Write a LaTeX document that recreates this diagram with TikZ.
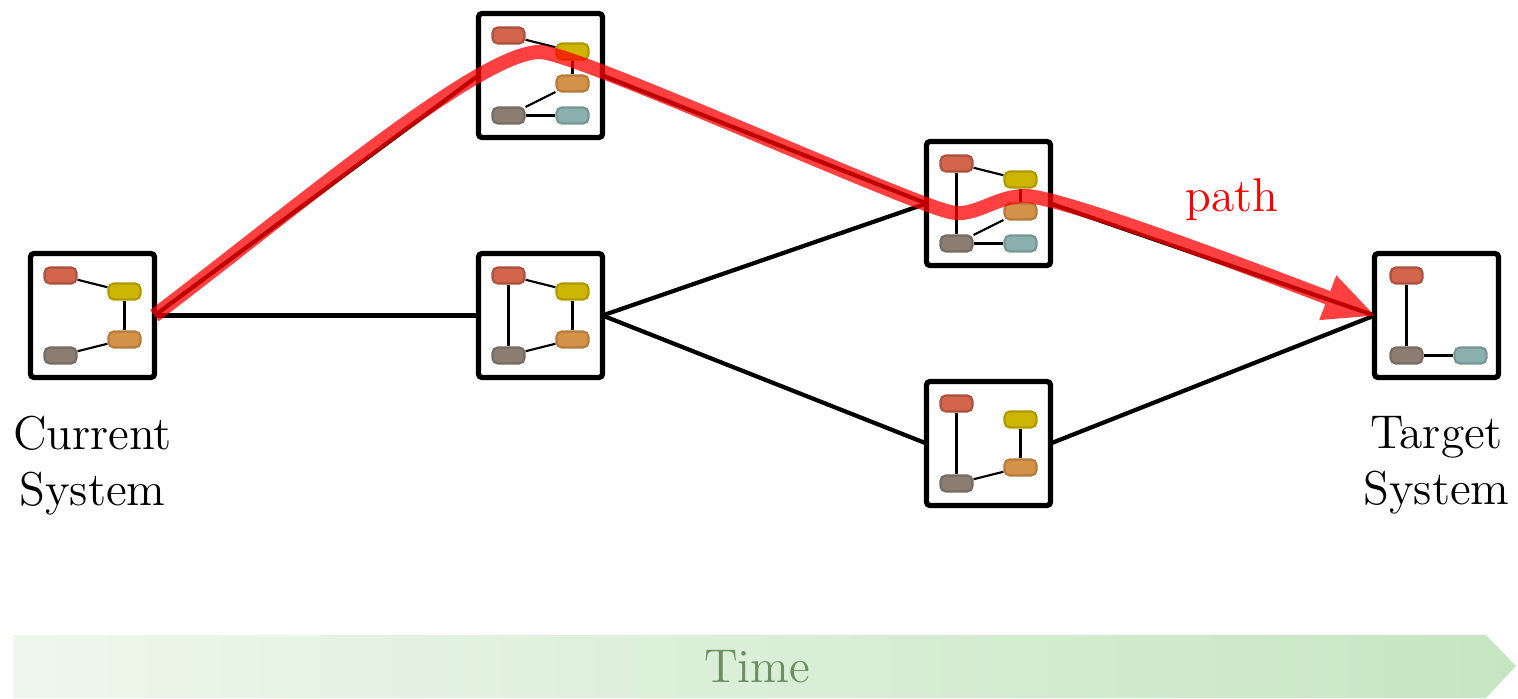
\documentclass[tikz,border=0pt]{standalone}
\usepackage{tikz}
\usetikzlibrary{positioning, arrows.meta, calc}
\definecolor{compRed}{HTML}{D3654D}
\definecolor{compYellow}{HTML}{CDB500}
\definecolor{compOrange}{HTML}{D49148}
\definecolor{compGrey}{HTML}{8C7D73}
\definecolor{compTeal}{HTML}{8CAFAF}
\definecolor{timeLeft}{HTML}{EEF7EC}
\definecolor{timeRight}{HTML}{C6E6C2}
\definecolor{timeGreen}{HTML}{6A8F60}
\tikzstyle{system} =[draw, fill=white, line width=1.5pt, minimum size=1.24cm, rounded corners=1pt, inner sep=0pt, outer sep=0pt]
\tikzstyle{comp} =[rounded corners=1.5pt, minimum width=0.32cm, minimum height=0.16cm, inner sep=0pt, line width=0.6pt]
\tikzstyle{cRed} =[comp, fill=compRed, draw=compRed!80!black]
\tikzstyle{cYellow} =[comp, fill=compYellow, draw=compYellow!85!black]
\tikzstyle{cOrange} =[comp, fill=compOrange, draw=compOrange!85!black]
\tikzstyle{cGrey} =[comp, fill=compGrey, draw=compGrey!85!black]
\tikzstyle{cTeal} =[comp, fill=compTeal, draw=compTeal!85!black]
\tikzstyle{wire} =[line width=0.6pt, black]
\tikzstyle{link} =[line width=1.2pt, black]
\tikzstyle{caption} =[align=center, font=\fontsize{13.5}{16}\selectfont]

\begin{document}
\begin{tikzpicture}
\useasboundingbox (0,0) rectangle (15.18,6.98);

% time axis
\shade[left color=timeLeft, right color=timeRight] (0.13,0) -- (14.86,0) -- (15.16,0.32) -- (14.86,0.63) -- (0.13,0.63) -- cycle;
\node (time) [caption, text=timeGreen] at (7.57,0.31) {Time};

% systems
\node (cur) [system] at (0.925,3.825) {};
\node (mid) [system, right=3.24cm of cur] {};
\node (top) [system, above=1.16cm of mid] {};
\node (ur) [system, right=3.24cm of mid, yshift=1.12cm] {};
\node (lr) [system, right=3.24cm of mid, yshift=-1.28cm] {};
\node (tgt) [system, right=3.24cm of ur, yshift=-1.12cm] {};

\node (curText) [caption, below=0.26cm of cur] {Current\\System};
\node (tgtText) [caption, below=0.26cm of tgt] {Target\\System};

% current system
\node (curR) [cRed] at ($(cur)+(-0.32,0.40)$) {};
\node (curY) [cYellow] at ($(cur)+(0.32,0.24)$) {};
\node (curO) [cOrange] at ($(cur)+(0.32,-0.24)$) {};
\node (curG) [cGrey] at ($(cur)+(-0.32,-0.40)$) {};
\draw[wire] (curR) -- (curY);
\draw[wire] (curY) -- (curO);
\draw[wire] (curO) -- (curG);

% top
\node (topR) [cRed] at ($(top)+(-0.32,0.40)$) {};
\node (topY) [cYellow] at ($(top)+(0.32,0.24)$) {};
\node (topO) [cOrange] at ($(top)+(0.32,-0.08)$) {};
\node (topG) [cGrey] at ($(top)+(-0.32,-0.40)$) {};
\node (topT) [cTeal] at ($(top)+(0.32,-0.40)$) {};
\draw[wire] (topR) -- (topY);
\draw[wire] (topY) -- (topO);
\draw[wire] (topO) -- (topG);
\draw[wire] (topG) -- (topT);

% middle
\node (midR) [cRed] at ($(mid)+(-0.32,0.40)$) {};
\node (midY) [cYellow] at ($(mid)+(0.32,0.24)$) {};
\node (midO) [cOrange] at ($(mid)+(0.32,-0.24)$) {};
\node (midG) [cGrey] at ($(mid)+(-0.32,-0.40)$) {};
\draw[wire] (midR) -- (midY);
\draw[wire] (midY) -- (midO);
\draw[wire] (midO) -- (midG);
\draw[wire] (midR) -- (midG);

% upper right
\node (urR) [cRed] at ($(ur)+(-0.32,0.40)$) {};
\node (urY) [cYellow] at ($(ur)+(0.32,0.24)$) {};
\node (urO) [cOrange] at ($(ur)+(0.32,-0.08)$) {};
\node (urG) [cGrey] at ($(ur)+(-0.32,-0.40)$) {};
\node (urT) [cTeal] at ($(ur)+(0.32,-0.40)$) {};
\draw[wire] (urR) -- (urY);
\draw[wire] (urY) -- (urO);
\draw[wire] (urO) -- (urG);
\draw[wire] (urR) -- (urG);
\draw[wire] (urG) -- (urT);

% lower right
\node (lrR) [cRed] at ($(lr)+(-0.32,0.40)$) {};
\node (lrY) [cYellow] at ($(lr)+(0.32,0.24)$) {};
\node (lrO) [cOrange] at ($(lr)+(0.32,-0.24)$) {};
\node (lrG) [cGrey] at ($(lr)+(-0.32,-0.40)$) {};
\draw[wire] (lrR) -- (lrG);
\draw[wire] (lrY) -- (lrO);
\draw[wire] (lrO) -- (lrG);

% target
\node (tgtR) [cRed] at ($(tgt)+(-0.30,0.40)$) {};
\node (tgtG) [cGrey] at ($(tgt)+(-0.30,-0.40)$) {};
\node (tgtT) [cTeal] at ($(tgt)+(0.34,-0.40)$) {};
\draw[wire] (tgtR) -- (tgtG);
\draw[wire] (tgtG) -- (tgtT);

% transitions
\draw[link] (cur.east) -- (mid.west);
\draw[link] (cur.east) -- (top.west);
\draw[link] (top.east) -- (ur.west);
\draw[link] (mid.east) -- (ur.west);
\draw[link] (mid.east) -- (lr.west);
\draw[link] (ur.east) -- (tgt.west);
\draw[link] (lr.east) -- (tgt.west);

% chosen path
\coordinate (peak) at (5.40,6.46);
\coordinate (dip) at (9.50,4.86);
\coordinate (bump) at (10.25,5.02);
\begin{scope}[transparency group, opacity=0.75]
\draw[red, line width=4pt, -{Triangle[length=0.5cm, width=0.48cm, line width=0pt]}]
	(cur.east) .. controls (3.00,4.93) and (4.80,6.46) .. (peak)
	.. controls (5.75,6.46) and (9.00,4.98) .. (dip)
	.. controls (9.75,4.80) and (9.95,5.02) .. (bump)
	.. controls (10.60,5.02) and (12.50,4.30) .. (tgt.west);
\end{scope}
\node (pathLabel) [caption, text=red] at (12.32,4.98) {path};

\end{tikzpicture}
\end{document}
